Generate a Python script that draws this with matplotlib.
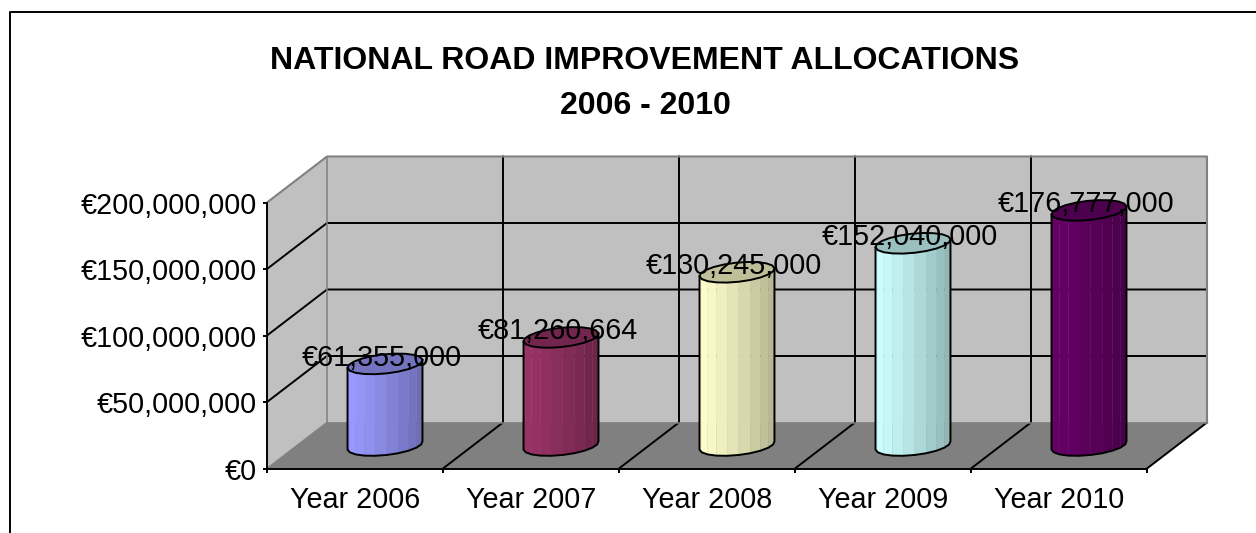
import numpy as np
import matplotlib.pyplot as plt
from matplotlib.lines import Line2D
from matplotlib.patches import Polygon
from matplotlib.ticker import FuncFormatter

plt.rcParams["font.family"] = ["Liberation Sans", "DejaVu Sans"]

years = ["Year 2006", "Year 2007", "Year 2008", "Year 2009", "Year 2010"]
values = [61355000, 81260664, 130245000, 152040000, 176777000]
colors = ["#9999FF", "#993366", "#FFFFCC", "#CCFFFF", "#660066"]
y_ticks = [0, 50000000, 100000000, 150000000, 200000000]
title = "NATIONAL ROAD IMPROVEMENT ALLOCATIONS\n2006 - 2010"

W, H = 1256, 533
fig = plt.figure(figsize=(W / 100, H / 100), dpi=100, facecolor="white")

# front plane of the fake 3d box, in pixels
left, right, top, bottom = 267, 1147, 202.5, 468.5
ax = fig.add_axes([left / W, 1 - bottom / H, (right - left) / W, (bottom - top) / H])
ax.set_xlim(0, len(years))
ax.set_ylim(0, y_ticks[-1])
ax.patch.set_visible(False)

# depth of the box in data units (60px across, 46px up)
dx = 60 / ((right - left) / len(years))
dy = 46 / (bottom - top) * y_ticks[-1]
xmax = len(years)
ymax = y_ticks[-1]
lw = 1.4

wall = "#C0C0C0"
floor = "#808080"
# side wall, back wall, floor
ax.add_patch(Polygon([(0, 0), (dx, dy), (dx, ymax + dy), (0, ymax)], fc=wall, ec="none", clip_on=False, zorder=1))
ax.add_patch(Polygon([(dx, dy), (xmax + dx, dy), (xmax + dx, ymax + dy), (dx, ymax + dy)], fc=wall, ec="none", clip_on=False, zorder=1))
ax.add_patch(Polygon([(0, 0), (xmax, 0), (xmax + dx, dy), (dx, dy)], fc=floor, ec="none", clip_on=False, zorder=1))

# grid lines, round the corner of the box
for v in y_ticks[1:-1]:
    ax.plot([0, dx, xmax + dx], [v, v + dy, v + dy], color="black", lw=lw, clip_on=False, zorder=2)
for i in range(1, xmax):
    ax.plot([i, i + dx, i + dx], [0, dy, ymax + dy], color="black", lw=lw, clip_on=False, zorder=2)
ax.plot([xmax, xmax + dx], [0, dy], color="black", lw=lw, clip_on=False, zorder=2)

# grey wall edges
ax.plot([0, dx, xmax + dx, xmax + dx], [ymax, ymax + dy, ymax + dy, dy], color=floor, lw=1.5, clip_on=False, zorder=2)
ax.plot([dx, dx, xmax + dx], [ymax + dy, dy, dy], color=floor, lw=1.1, clip_on=False, zorder=2)
ax.plot([0, dx], [0, dy], color=floor, lw=1.1, clip_on=False, zorder=2)

# cylinders
rx = 35 / ((right - left) / len(years))
rd = 0.45
t = np.linspace(0, 2 * np.pi, 21)[:-1] + 0.1
ex = rx * np.cos(t) + rd * dx * np.sin(t) / 2
ey = rd * dy * np.sin(t) / 2
i_l = int(np.argmin(ex))
i_r = int(np.argmax(ex))
# indices along the front of the ellipse, left to right
front = [(i_l + k) % len(t) for k in range((i_r - i_l) % len(t) + 1)]


def shade(color, f):
    rgb = np.array(plt.matplotlib.colors.to_rgb(color))
    return tuple(rgb * f)


for i, v in enumerate(values):
    cx = i + 0.5 + dx / 2
    cy = dy / 2
    fx = ex[front]
    frac = (fx - fx.min()) / (fx.max() - fx.min())
    for k in range(len(front) - 1):
        a, b = front[k], front[k + 1]
        f = 1 - 0.3 * ((frac[k] + frac[k + 1]) / 2) ** 1.3
        ax.add_patch(Polygon([(cx + ex[a], cy + ey[a]), (cx + ex[b], cy + ey[b]),
                              (cx + ex[b], cy + ey[b] + v), (cx + ex[a], cy + ey[a] + v)],
                             fc=shade(colors[i], f), ec=shade(colors[i], f), lw=0.2, clip_on=False, zorder=3))
    ax.plot(cx + np.r_[ex[i_l], fx, ex[i_r]], np.r_[cy + ey[i_l] + v, cy + ey[front], cy + ey[i_r] + v],
            color="black", lw=lw, clip_on=False, zorder=4)
    ax.add_patch(Polygon(np.c_[cx + ex, cy + ey + v], fc=shade(colors[i], 0.75), ec="black", lw=lw,
                         clip_on=False, zorder=4))
    ax.annotate("€{:,}".format(v), (cx, cy + v), xytext=(-2, 4.5), textcoords="offset points",
                ha="center", va="center", fontsize=20.7, color="black", zorder=5, annotation_clip=False)

# axes
for s in ["top", "right"]:
    ax.spines[s].set_visible(False)
for s in ["left", "bottom"]:
    ax.spines[s].set_linewidth(lw)
    ax.spines[s].set_zorder(6)
ax.set_yticks(y_ticks)
ax.yaxis.set_major_formatter(FuncFormatter(lambda v, p: "€{:,.0f}".format(v)))
ax.set_xticks(range(len(years) + 1))
ax.set_xticklabels([])
ax.set_xticks(np.arange(len(years)) + 0.5, minor=True)
ax.set_xticklabels(years, minor=True)
ax.tick_params(axis="both", which="major", length=3, width=lw, labelsize=20.7, pad=4)
ax.tick_params(axis="x", which="minor", length=0, labelsize=20.7, pad=12.5)

fig.text(645 / W, 1 - 83.5 / H, title, ha="center", va="center", fontsize=23, fontweight="bold", linespacing=1.62)

# chart frame, only the top and left edges show in the picture
fig.add_artist(Line2D(np.array([10, 10, W]) / W, 1 - np.array([H, 12, 12]) / H, color="black", lw=1.4))

fig.savefig("out.png", dpi=100)
